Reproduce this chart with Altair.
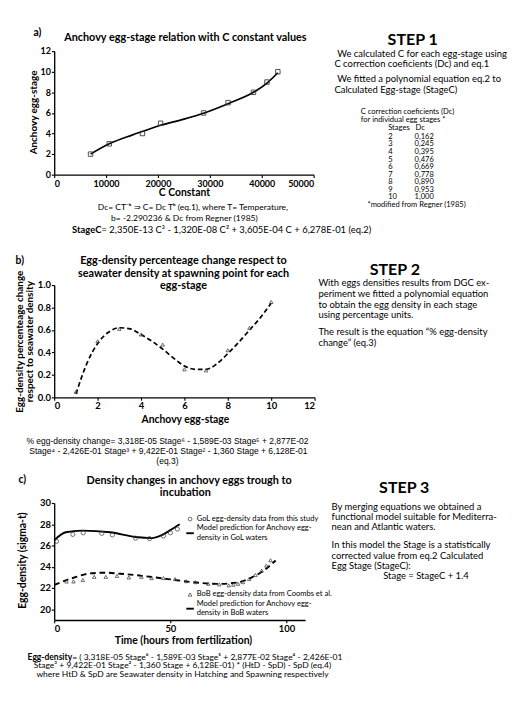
import altair as alt
import pandas as pd

FONT = "Lato"
EQF = "Liberation Sans"

# ---------- data ----------
# panel a
a_c = [7000, 10600, 17000, 20500, 28800, 33500, 38400, 41000, 43100]
a_stage = [2, 3, 4, 5, 6, 7, 8, 9, 10]
a_curve_c = [7000, 10600, 15000, 17000, 20500, 25000, 28900, 33500, 38400, 41000, 43100]
a_curve_stage = [2.0, 3.0, 3.85, 4.2, 4.8, 5.4, 6.0, 6.9, 8.0, 8.9, 9.9]
dc_stages = ["2", "3", "4", "5", "6", "7", "8", "9", "10"]
dc_values = ["0,162", "0,245", "0,395", "0,476", "0,669", "0,778", "0,890", "0,953", "1,000"]

# panel b
b_stage = [1, 2, 3, 4, 5, 6, 7, 8, 9, 10]
b_pct = [0.05, 0.50, 0.61, 0.56, 0.47, 0.25, 0.24, 0.42, 0.62, 0.85]
b_curve_stage = [1, 1.5, 2, 2.5, 3, 3.5, 4, 4.5, 5, 5.5, 6, 6.5, 7, 7.5, 8, 8.5, 9, 9.5, 10]
b_curve_pct = [0.03, 0.30, 0.48, 0.58, 0.62, 0.61, 0.56, 0.50, 0.43, 0.35, 0.28, 0.25, 0.25,
               0.30, 0.39, 0.49, 0.60, 0.71, 0.84]

# panel c
gol_t = [1, 8, 12.5, 20.5, 25, 35, 41, 47, 50, 53]
gol_d = [26.4, 27.05, 27.2, 27.15, 27.0, 26.7, 26.65, 26.9, 27.2, 27.55]
gol_curve_t = [0, 5, 12, 24, 35, 42, 46, 50, 54]
gol_curve_d = [26.5, 27.25, 27.4, 27.25, 26.8, 26.7, 26.95, 27.45, 28.0]
bob_t = [5.3, 8.3, 12.3, 17.2, 22.2, 27.0, 32.1, 37.5, 41.9, 47.0, 52.0, 56.8, 60.8, 66.3,
         71.0, 75.1, 77.1, 79.1, 81.2, 83.9, 86.6, 89.3, 91.3, 93.1]
bob_d = [22.62, 22.62, 22.76, 23.06, 23.06, 23.15, 23.0, 23.06, 22.94, 22.94, 22.85, 22.65,
         22.56, 22.41, 22.35, 22.26, 22.32, 22.41, 22.56, 22.85, 23.24, 23.65, 24.12, 24.62]
bob_curve_t = [0, 8, 16, 22, 28.5, 38, 49, 60, 71, 79.5, 85, 90.5, 95.3]
bob_curve_d = [22.3, 22.95, 23.4, 23.45, 23.35, 23.15, 22.85, 22.55, 22.4, 22.55, 23.0, 23.7, 24.6]

ONE = alt.Data(values=[{"k": 1}])


def axis(values, fmt=None, size=10):
    kw = dict(values=values, title=None, grid=False, domainColor="black", domainWidth=1.4,
              tickColor="black", tickWidth=1.2, tickSize=3, labelFont=FONT,
              labelFontWeight="bold", labelFontSize=size, labelColor="black", labelPadding=1,
              zindex=2)
    if fmt:
        kw["format"] = fmt
    return alt.Axis(**kw)


def make_txt(ox, oy):
    def txt(s, x, y, size=10, bold=False, align="left", font=FONT, angle=None):
        kw = dict(text=s, fontSize=size, fontWeight="bold" if bold else "normal",
                  align=align, baseline="middle", font=font, color="black")
        if angle is not None:
            kw["angle"] = angle
        return alt.Chart(ONE).mark_text(**kw).encode(x=alt.value(x - ox), y=alt.value(y - oy))
    return txt


def box(ox, oy, top, bottom):
    return alt.Chart(ONE).mark_rect(color="white").encode(
        x=alt.value(8 - ox), x2=alt.value(508 - ox), y=alt.value(top - oy), y2=alt.value(bottom - oy))


# ---------- row 1 ----------
OX1, OY1, W1, H1 = 38, 32, 275, 131
t1 = make_txt(OX1, OY1)
xa = alt.X("c:Q", scale=alt.Scale(domain=[0, 50000], nice=False),
           axis=axis([0, 10000, 20000, 30000, 40000, 50000], "d", 9.5))
ya = alt.Y("s:Q", scale=alt.Scale(domain=[0, 12], nice=False),
           axis=axis([0, 2, 4, 6, 8, 10, 12], "d", 9.5))
a_line = alt.Chart(pd.DataFrame({"c": a_curve_c, "s": a_curve_stage})).mark_line(
    color="black", strokeWidth=1.8, interpolate="monotone").encode(x=xa, y=ya)
a_pts = alt.Chart(pd.DataFrame({"c": a_c, "s": a_stage})).mark_point(
    shape="square", size=22, color="#333", strokeWidth=0.9, filled=False, opacity=1).encode(x=xa, y=ya)

row1_txt = [
    t1("a)", 16, 13, 11, True),
    t1("Anchovy egg-stage relation with C constant values", 177, 18, 11.5, True, "center"),
    t1("Anchovy egg-stage", 17, 97, 10.5, True, "center", angle=270),
    t1("C Constant", 176, 183, 11, True, "center"),
    t1("Dc= CT⁻ᵇ ⇒ C= Dc Tᵇ (eq.1), where T= Temperature,", 185, 197, 9, False, "center"),
    t1("b= -2.290236 & Dc from Regner (1985)", 176, 209, 9, False, "center"),
    t1("StageC", 88, 222, 10, True, "right"),
    t1("= 2,350E-13 C³ - 1,320E-08 C² + 3,605E-04 C + 6,278E-01 (eq.2)", 88, 222, 10, False, "left"),
    t1("STEP 1", 418, 20, 17, True, "center"),
    t1("We calculated C for each egg-stage using", 338, 35, 10),
    t1("C correction coeficients (Dc) and eq.1", 335, 46, 10),
    t1("We fitted a polynomial equation eq.2 to", 338, 62, 10),
    t1("Calculated Egg-stage (StageC)", 335, 73, 10),
    t1("C correction coeficients (Dc)", 363, 97, 8),
    t1("for individual egg stages *", 363, 105, 8),
    t1("Stages", 392, 114, 8),
    t1("Dc", 421, 114, 8),
    t1("*modified from Regner (1985)", 370, 195, 8),
]
for i, (s, d) in enumerate(zip(dc_stages, dc_values)):
    row1_txt.append(t1(s, 392, 123 + 8 * i, 8))
    row1_txt.append(t1(d, 420, 123 + 8 * i, 8))

row1 = alt.layer(box(OX1, OY1, 8, 240), a_line, a_pts, *row1_txt).properties(width=W1, height=H1)

# ---------- row 2 ----------
OX2, OY2, W2, H2 = 57, 280, 276, 119
t2 = make_txt(OX2, OY2)
xb = alt.X("st:Q", scale=alt.Scale(domain=[0, 12], nice=False), axis=axis([0, 2, 4, 6, 8, 10, 12], "d"))
yb = alt.Y("p:Q", scale=alt.Scale(domain=[0, 1], nice=False),
           axis=axis([0, 0.2, 0.4, 0.6, 0.8, 1.0], ".1f"))
b_line = alt.Chart(pd.DataFrame({"st": b_curve_stage, "p": b_curve_pct})).mark_line(
    color="black", strokeWidth=1.8, strokeDash=[5, 3], interpolate="monotone").encode(x=xb, y=yb)
b_pts = alt.Chart(pd.DataFrame({"st": b_stage, "p": b_pct})).mark_point(
    shape="triangle-up", size=14, color="#444", strokeWidth=0.8, filled=False, opacity=1).encode(x=xb, y=yb)

row2_txt = [
    t2("b)", 16, 255, 11, True),
    t2("Egg-density percenteage change respect to", 194, 255, 11.5, True, "center"),
    t2("seawater density at spawning point for each", 194, 268, 11.5, True, "center"),
    t2("egg-stage", 194, 281, 11.5, True, "center"),
    t2("Egg-density percenteage change", 21, 340, 10.5, True, "center", angle=270),
    t2("respect to seawater density", 32, 340, 10.5, True, "center", angle=270),
    t2("Anchovy egg-stage", 196, 423, 11, True, "center"),
    t2("% egg-density change= 3,318E-05 Stage⁶ - 1,589E-03 Stage⁵ + 2,877E-02", 177, 445, 9, False, "center", EQF),
    t2("Stage⁴ - 2,426E-01 Stage³ + 9,422E-01 Stage² - 1,360 Stage + 6,128E-01", 178, 456, 9, False, "center", EQF),
    t2("(eq.3)", 177, 467, 9, False, "center", EQF),
    t2("STEP 2", 418, 264, 17, True, "center"),
    t2("With eggs densities results from DGC ex-", 337, 278, 10),
    t2("periment we fitted a polynomial equation", 337, 290, 10),
    t2("to obtain the egg density in each stage", 337, 301, 10),
    t2("using percentage units.", 337, 312, 10),
    t2("The result is the equation “% egg-density", 337, 330, 10),
    t2("change” (eq.3)", 337, 342, 10),
]
row2 = alt.layer(box(OX2, OY2, 240, 474), b_line, b_pts, *row2_txt).properties(width=W2, height=H2)

# ---------- row 3 ----------
OX3, OY3, W3, H3 = 47, 511, 266, 124
t3 = make_txt(OX3, OY3)
xc = alt.X("t:Q", scale=alt.Scale(domain=[0, 108], nice=False), axis=axis([0, 50, 100], "d"))
yc = alt.Y("d:Q", scale=alt.Scale(domain=[19, 30], nice=False), axis=axis([20, 22, 24, 26, 28, 30], "d"))
gol_line = alt.Chart(pd.DataFrame({"t": gol_curve_t, "d": gol_curve_d})).mark_line(
    color="black", strokeWidth=2, interpolate="monotone").encode(x=xc, y=yc)
gol_pts = alt.Chart(pd.DataFrame({"t": gol_t, "d": gol_d})).mark_point(
    shape="circle", size=20, color="#444", strokeWidth=0.8, filled=False, opacity=1).encode(x=xc, y=yc)
bob_line = alt.Chart(pd.DataFrame({"t": bob_curve_t, "d": bob_curve_d})).mark_line(
    color="black", strokeWidth=2, strokeDash=[6, 4], interpolate="monotone").encode(x=xc, y=yc)
bob_pts = alt.Chart(pd.DataFrame({"t": bob_t, "d": bob_d})).mark_point(
    shape="triangle-up", size=14, color="#444", strokeWidth=0.8, filled=False, opacity=1).encode(x=xc, y=yc)


def sym(shape, x, y):
    return alt.Chart(ONE).mark_point(shape=shape, size=16, color="#444", strokeWidth=0.8,
                                     filled=False, opacity=1).encode(x=alt.value(x - OX3), y=alt.value(y - OY3))


def dash(x0, x1, y):
    return alt.Chart(ONE).mark_rule(color="black", strokeWidth=2).encode(
        x=alt.value(x0 - OX3), x2=alt.value(x1 - OX3), y=alt.value(y - OY3))


row3_txt = [
    t3("c)", 9, 487, 11, True),
    t3("Density changes in anchovy eggs trough to", 190, 488, 11.5, True, "center"),
    t3("incubation", 186, 501, 11.5, True, "center"),
    t3("Egg-density (sigma-t)", 14, 572, 11, True, "center", angle=270),
    t3("Time (hours from fertilization)", 184, 657, 11, True, "center"),
    sym("circle", 191, 528),
    t3("GoL egg-density data from this study", 198, 528, 8),
    dash(187, 195, 543),
    t3("Model prediction for Anchovy egg-", 198, 538, 8),
    t3("density in GoL waters", 198, 548, 8),
    sym("triangle-up", 191, 608),
    t3("BoB egg-density data from Coombs et al.", 198, 608, 8),
    dash(187, 195, 623),
    t3("Model prediction for Anchovy egg-", 198, 618, 8),
    t3("density in BoB waters", 198, 628, 8),
    t3("Egg-density", 66, 674, 9, True, "right"),
    t3("= ( 3,318E-05 Stage⁶ - 1,589E-03 Stage⁵ + 2,877E-02 Stage⁴ - 2,426E-01", 66, 674, 9),
    t3("Stage³ + 9,422E-01 Stage² - 1,360 Stage + 6,128E-01) * (HtD - SpD) - SpD   (eq.4)", 183, 683, 9, False, "center"),
    t3("where HtD & SpD are Seawater density in Hatching and Spawning respectively", 183, 692, 9, False, "center"),
    t3("STEP 3", 418, 495, 17, True, "center"),
    t3("By merging equations we obtained a", 341, 515, 10),
    t3("functional model suitable for Mediterra-", 341, 526, 10),
    t3("nean and Atlantic waters.", 341, 537, 10),
    t3("In this model the Stage is a statistically", 341, 556, 10),
    t3("corrected value from eq.2 Calculated", 341, 567, 10),
    t3("Egg Stage (StageC):", 341, 578, 10),
    t3("Stage = StageC + 1.4", 441, 589, 10, False, "center"),
]
row3 = alt.layer(box(OX3, OY3, 474, 698), bob_line, bob_pts, gol_line, gol_pts, *row3_txt).properties(
    width=W3, height=H3)

chart = alt.concat(row1, row2, row3, columns=1, spacing=0, align="none", padding=0).configure_view(strokeWidth=0)
chart.save("out.html", embed_options={"renderer": "svg", "actions": False})
